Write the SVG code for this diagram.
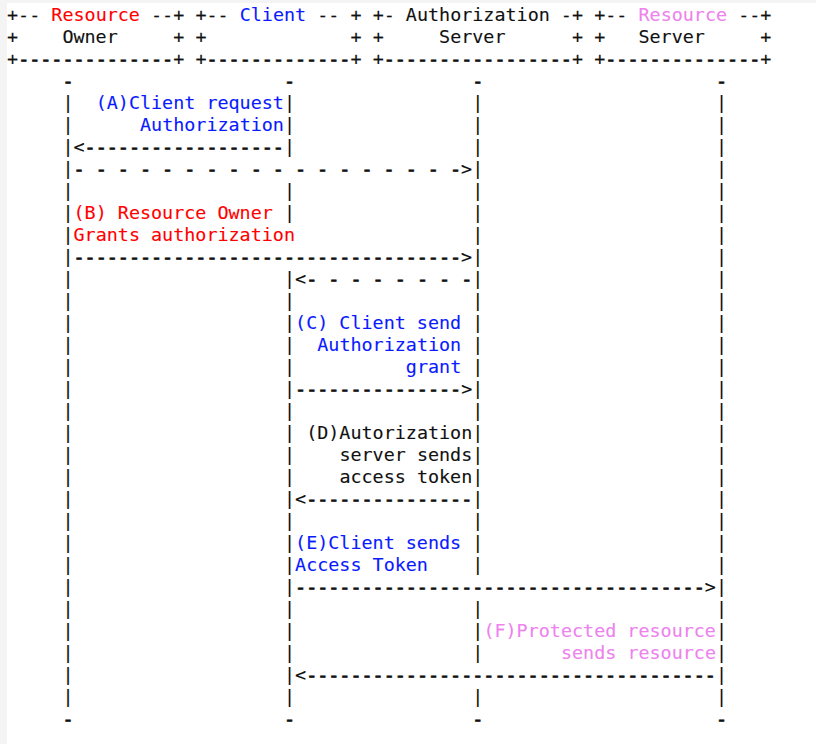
<svg xmlns="http://www.w3.org/2000/svg" width="816" height="744" viewBox="0 0 816 744">
<style>
text{font-family:"DejaVu Sans Mono","Liberation Mono",monospace;font-size:18.4px;fill:#111;stroke:#111;stroke-width:0.12px;white-space:pre}
.red{fill:#ff0000;stroke:#ff0000}
.blue{fill:#0a1aff;stroke:#0a1aff}
.violet{fill:#ee82ee;stroke:#ee82ee}
.dash{stroke-width:0.8px}
.n{stroke-width:0.12px}
</style>
<rect x="0" y="0" width="816" height="744" fill="#f4f4f4"/>
<rect x="7" y="3" width="809" height="741" fill="#ffffff"/>

<g id="node-resource-owner">
<text xml:space="preserve" x="7.06" y="20.5">+-- <tspan class="red">Resource</tspan> --+</text>
<text xml:space="preserve" x="7.06" y="42.5">+    Owner     +</text>
<text xml:space="preserve" class="dash" x="7.06" y="64.5"><tspan class="n">+</tspan>--------------<tspan class="n">+</tspan></text>
<text><tspan class="dash" x="62.45" y="86.5">-</tspan><tspan x="62.45" y="108.5">|</tspan><tspan x="62.45" y="130.5">|</tspan><tspan x="62.45" y="152.5">|</tspan><tspan x="62.45" y="174.5">|</tspan><tspan x="62.45" y="196.5">|</tspan><tspan x="62.45" y="218.5">|</tspan><tspan x="62.45" y="240.5">|</tspan><tspan x="62.45" y="262.5">|</tspan><tspan x="62.45" y="284.5">|</tspan><tspan x="62.45" y="306.5">|</tspan><tspan x="62.45" y="328.5">|</tspan><tspan x="62.45" y="350.5">|</tspan><tspan x="62.45" y="372.5">|</tspan><tspan x="62.45" y="394.5">|</tspan><tspan x="62.45" y="416.5">|</tspan><tspan x="62.45" y="438.5">|</tspan><tspan x="62.45" y="460.5">|</tspan><tspan x="62.45" y="482.5">|</tspan><tspan x="62.45" y="504.5">|</tspan><tspan x="62.45" y="526.5">|</tspan><tspan x="62.45" y="548.5">|</tspan><tspan x="62.45" y="570.5">|</tspan><tspan x="62.45" y="592.5">|</tspan><tspan x="62.45" y="614.5">|</tspan><tspan x="62.45" y="636.5">|</tspan><tspan x="62.45" y="658.5">|</tspan><tspan x="62.45" y="680.5">|</tspan><tspan x="62.45" y="702.5">|</tspan><tspan class="dash" x="62.45" y="724.5">-</tspan></text>
</g>

<g id="node-client">
<text xml:space="preserve" x="195.39" y="20.5">+-- <tspan class="blue">Client</tspan> -- +</text>
<text xml:space="preserve" x="195.39" y="42.5">+             +</text>
<text xml:space="preserve" class="dash" x="195.39" y="64.5"><tspan class="n">+</tspan>-------------<tspan class="n">+</tspan></text>
<text><tspan class="dash" x="284.01" y="86.5">-</tspan><tspan x="284.01" y="108.5">|</tspan><tspan x="284.01" y="130.5">|</tspan><tspan x="284.01" y="152.5">|</tspan><tspan x="284.01" y="196.5">|</tspan><tspan x="284.01" y="218.5">|</tspan><tspan x="284.01" y="284.5">|</tspan><tspan x="284.01" y="306.5">|</tspan><tspan x="284.01" y="328.5">|</tspan><tspan x="284.01" y="350.5">|</tspan><tspan x="284.01" y="372.5">|</tspan><tspan x="284.01" y="394.5">|</tspan><tspan x="284.01" y="416.5">|</tspan><tspan x="284.01" y="438.5">|</tspan><tspan x="284.01" y="460.5">|</tspan><tspan x="284.01" y="482.5">|</tspan><tspan x="284.01" y="504.5">|</tspan><tspan x="284.01" y="526.5">|</tspan><tspan x="284.01" y="548.5">|</tspan><tspan x="284.01" y="570.5">|</tspan><tspan x="284.01" y="592.5">|</tspan><tspan x="284.01" y="614.5">|</tspan><tspan x="284.01" y="636.5">|</tspan><tspan x="284.01" y="658.5">|</tspan><tspan x="284.01" y="680.5">|</tspan><tspan x="284.01" y="702.5">|</tspan><tspan class="dash" x="284.01" y="724.5">-</tspan></text>
</g>

<g id="node-authorization-server">
<text xml:space="preserve" x="372.63" y="20.5">+- Authorization -+</text>
<text xml:space="preserve" x="372.63" y="42.5">+     Server      +</text>
<text xml:space="preserve" class="dash" x="372.63" y="64.5"><tspan class="n">+</tspan>-----------------<tspan class="n">+</tspan></text>
<text><tspan class="dash" x="472.34" y="86.5">-</tspan><tspan x="472.34" y="108.5">|</tspan><tspan x="472.34" y="130.5">|</tspan><tspan x="472.34" y="152.5">|</tspan><tspan x="472.34" y="174.5">|</tspan><tspan x="472.34" y="196.5">|</tspan><tspan x="472.34" y="218.5">|</tspan><tspan x="472.34" y="240.5">|</tspan><tspan x="472.34" y="262.5">|</tspan><tspan x="472.34" y="284.5">|</tspan><tspan x="472.34" y="306.5">|</tspan><tspan x="472.34" y="328.5">|</tspan><tspan x="472.34" y="350.5">|</tspan><tspan x="472.34" y="372.5">|</tspan><tspan x="472.34" y="394.5">|</tspan><tspan x="472.34" y="416.5">|</tspan><tspan x="472.34" y="438.5">|</tspan><tspan x="472.34" y="460.5">|</tspan><tspan x="472.34" y="482.5">|</tspan><tspan x="472.34" y="504.5">|</tspan><tspan x="472.34" y="526.5">|</tspan><tspan x="472.34" y="548.5">|</tspan><tspan x="472.34" y="570.5">|</tspan><tspan x="472.34" y="614.5">|</tspan><tspan x="472.34" y="636.5">|</tspan><tspan x="472.34" y="658.5">|</tspan><tspan x="472.34" y="702.5">|</tspan><tspan class="dash" x="472.34" y="724.5">-</tspan></text>
</g>

<g id="node-resource-server">
<text xml:space="preserve" x="594.19" y="20.5">+-- <tspan class="violet">Resource</tspan> --+</text>
<text xml:space="preserve" x="594.19" y="42.5">+   Server     +</text>
<text xml:space="preserve" class="dash" x="594.19" y="64.5"><tspan class="n">+</tspan>--------------<tspan class="n">+</tspan></text>
<text><tspan class="dash" x="716.05" y="86.5">-</tspan><tspan x="716.05" y="108.5">|</tspan><tspan x="716.05" y="130.5">|</tspan><tspan x="716.05" y="152.5">|</tspan><tspan x="716.05" y="174.5">|</tspan><tspan x="716.05" y="196.5">|</tspan><tspan x="716.05" y="218.5">|</tspan><tspan x="716.05" y="240.5">|</tspan><tspan x="716.05" y="262.5">|</tspan><tspan x="716.05" y="284.5">|</tspan><tspan x="716.05" y="306.5">|</tspan><tspan x="716.05" y="328.5">|</tspan><tspan x="716.05" y="350.5">|</tspan><tspan x="716.05" y="372.5">|</tspan><tspan x="716.05" y="394.5">|</tspan><tspan x="716.05" y="416.5">|</tspan><tspan x="716.05" y="438.5">|</tspan><tspan x="716.05" y="460.5">|</tspan><tspan x="716.05" y="482.5">|</tspan><tspan x="716.05" y="504.5">|</tspan><tspan x="716.05" y="526.5">|</tspan><tspan x="716.05" y="548.5">|</tspan><tspan x="716.05" y="570.5">|</tspan><tspan x="716.05" y="592.5">|</tspan><tspan x="716.05" y="614.5">|</tspan><tspan x="716.05" y="636.5">|</tspan><tspan x="716.05" y="658.5">|</tspan><tspan x="716.05" y="680.5">|</tspan><tspan x="716.05" y="702.5">|</tspan><tspan class="dash" x="716.05" y="724.5">-</tspan></text>
</g>

<g id="connectors">
<text xml:space="preserve" class="dash" x="73.53" y="152.5"><tspan class="n">&lt;</tspan>------------------</text>
<text xml:space="preserve" class="dash" x="73.53" y="174.5">- - - - - - - - - - - - - - - - - -<tspan class="n">&gt;</tspan></text>
<text xml:space="preserve" class="dash" x="73.53" y="262.5">-----------------------------------<tspan class="n">&gt;</tspan></text>
<text xml:space="preserve" class="dash" x="295.09" y="284.5"><tspan class="n">&lt;</tspan>- - - - - - - -</text>
<text xml:space="preserve" class="dash" x="295.09" y="394.5">---------------<tspan class="n">&gt;</tspan></text>
<text xml:space="preserve" class="dash" x="295.09" y="504.5"><tspan class="n">&lt;</tspan>---------------</text>
<text xml:space="preserve" class="dash" x="295.09" y="592.5">-------------------------------------<tspan class="n">&gt;</tspan></text>
<text xml:space="preserve" class="dash" x="295.09" y="680.5"><tspan class="n">&lt;</tspan>-------------------------------------</text>
</g>

<g id="labels">
<g id="label-a">
<text class="blue" x="95.68" y="108.5">(A)Client request</text>
<text class="blue" x="140.00" y="130.5">Authorization</text>
</g>
<g id="label-b">
<text class="red" xml:space="preserve" x="73.53" y="218.5">(B) Resource Owner</text>
<text class="red" xml:space="preserve" x="73.53" y="240.5">Grants authorization</text>
</g>
<g id="label-c">
<text class="blue" xml:space="preserve" x="295.09" y="328.5">(C) Client send</text>
<text class="blue" x="317.24" y="350.5">Authorization</text>
<text class="blue" x="405.87" y="372.5">grant</text>
</g>
<g id="label-d">
<text x="306.17" y="438.5">(D)Autorization</text>
<text xml:space="preserve" x="339.40" y="460.5">server sends</text>
<text xml:space="preserve" x="339.40" y="482.5">access token</text>
</g>
<g id="label-e">
<text class="blue" xml:space="preserve" x="295.09" y="548.5">(E)Client sends</text>
<text class="blue" xml:space="preserve" x="295.09" y="570.5">Access Token</text>
</g>
<g id="label-f">
<text class="violet" xml:space="preserve" x="483.42" y="636.5">(F)Protected resource</text>
<text class="violet" xml:space="preserve" x="560.96" y="658.5">sends resource</text>
</g>
</g>
</svg>
